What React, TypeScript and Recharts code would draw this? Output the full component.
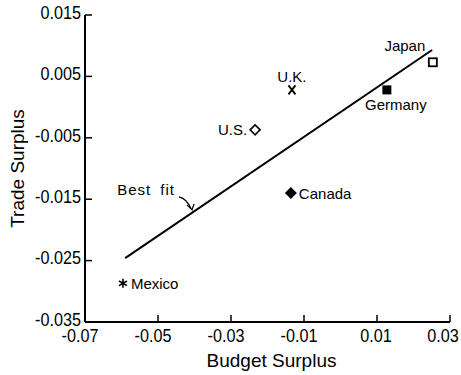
import { ScatterChart, Scatter, XAxis, YAxis, ReferenceLine, ReferenceDot } from 'recharts'

const countries = ['Japan', 'Germany', 'U.K.', 'U.S.', 'Canada', 'Mexico']
const budgetSurplus = [0.0253, 0.0127, -0.0133, -0.0234, -0.0136, -0.0596]
const tradeSurplus = [0.0073, 0.0028, 0.0028, -0.0037, -0.014, -0.0287]
const markers = ['openSquare', 'filledSquare', 'cross', 'openDiamond', 'filledDiamond', 'asterisk']

// best fit line end points and where the note arrow touches it
const fitBudget = [-0.059, 0.0251]
const fitTrade = [-0.0246, 0.0093]
const fitNote = 'Best fit'
const fitNoteBudget = -0.0404
const fitNoteTrade = -0.0169

const xTicks = [-0.07, -0.05, -0.03, -0.01, 0.01, 0.03]
const xTickLabels = ['-0.07', '-0.05', '-0.03', '-0.01', '0.01', '0.03']
const yTicks = [-0.035, -0.025, -0.015, -0.005, 0.005, 0.015]
const yTickLabels = ['-0.035', '-0.025', '-0.015', '-0.005', '0.005', '0.015']

const points = countries.map((name, i) => ({
  name,
  budget: budgetSurplus[i],
  trade: tradeSurplus[i],
  marker: markers[i],
}))

const SANS = "'Liberation Sans', Arial, sans-serif"
const INK = '#000'
const SQUEEZE = 0.9 // tick labels in the original are set in a condensed face

const labelPos: Record<string, { dx: number; dy: number; anchor: 'start' | 'middle' | 'end' }> = {
  Japan: { dx: -28, dy: -17, anchor: 'middle' },
  Germany: { dx: 9, dy: 15, anchor: 'middle' },
  'U.K.': { dx: 0, dy: -13, anchor: 'middle' },
  'U.S.': { dx: -8, dy: 0, anchor: 'end' },
  Canada: { dx: 8, dy: 0, anchor: 'start' },
  Mexico: { dx: 8, dy: 0, anchor: 'start' },
}

function Marker({ kind, cx, cy }: { kind: string; cx: number; cy: number }) {
  if (kind === 'openSquare')
    return <rect x={cx - 4} y={cy - 4} width={8} height={8} fill="#fff" stroke={INK} strokeWidth={1.8} />
  if (kind === 'filledSquare') return <rect x={cx - 4.5} y={cy - 4.5} width={9} height={9} fill={INK} />
  if (kind === 'cross')
    return (
      <path d={`M${cx - 3.5},${cy - 4.5}L${cx + 3.5},${cy + 4.5}M${cx + 3.5},${cy - 4.5}L${cx - 3.5},${cy + 4.5}`} stroke={INK} strokeWidth={1.8} />
    )
  if (kind === 'openDiamond')
    return (
      <polygon points={`${cx},${cy - 5} ${cx + 5},${cy} ${cx},${cy + 5} ${cx - 5},${cy}`} fill="#fff" stroke={INK} strokeWidth={1.6} />
    )
  if (kind === 'filledDiamond')
    return <polygon points={`${cx},${cy - 6} ${cx + 6},${cy} ${cx},${cy + 6} ${cx - 6},${cy}`} fill={INK} />
  // asterisk
  return (
    <path
      d={`M${cx},${cy - 4.5}L${cx},${cy + 4.5}M${cx - 4},${cy - 2.3}L${cx + 4},${cy + 2.3}M${cx - 4},${cy + 2.3}L${cx + 4},${cy - 2.3}`}
      stroke={INK}
      strokeWidth={1.6}
    />
  )
}

function CountryPoint(props: any) {
  const { cx, cy, payload } = props
  const p = labelPos[payload.name]
  return (
    <g>
      <Marker kind={payload.marker} cx={cx} cy={cy} />
      <text
        x={cx + p.dx}
        y={cy + p.dy}
        textAnchor={p.anchor}
        dominantBaseline="central"
        fontFamily={SANS}
        fontSize={15}
        style={{ fill: INK }}
      >
        {payload.name}
      </text>
    </g>
  )
}

function FitNote(props: any) {
  const { cx, cy } = props
  return (
    <g>
      <text
        x={cx - 18}
        y={cy - 21}
        textAnchor="end"
        dominantBaseline="central"
        fontFamily={SANS}
        fontSize={15}
        letterSpacing={1}
        wordSpacing={4}
        style={{ fill: INK }}
      >
        {fitNote}
      </text>
      <path d={`M${cx - 14},${cy - 14} Q${cx - 6},${cy - 12} ${cx - 2},${cy - 2}`} fill="none" stroke={INK} strokeWidth={1.3} />
      <path d={`M${cx - 6},${cy - 6} L${cx - 1},${cy - 1} L${cx + 1},${cy - 7}`} fill="none" stroke={INK} strokeWidth={1.3} />
    </g>
  )
}

function XTick(props: any) {
  const { x, y, index } = props
  const s = xTickLabels[index]
  if (s === undefined) return <g />
  // the original sets labels a little left of their ticks, the last one inside the frame
  const shift = index === xTickLabels.length - 1 ? -7 : s.startsWith('-') ? -5 : -1
  return (
    <text
      transform={`translate(${x + shift},${y + 17}) scale(${SQUEEZE},1)`}
      textAnchor="middle"
      fontFamily={SANS}
      fontSize={18}
      style={{ fill: INK }}
    >
      {s}
    </text>
  )
}

function YTick(props: any) {
  const { x, y, index } = props
  const s = yTickLabels[index]
  if (s === undefined) return <g />
  return (
    <text
      transform={`translate(${x},${y - 2}) scale(${SQUEEZE},1)`}
      textAnchor="end"
      dominantBaseline="central"
      fontFamily={SANS}
      fontSize={18}
      style={{ fill: INK }}
    >
      {s}
    </text>
  )
}

const noMark = () => <g />

export default function App() {
  return (
    <div style={{ position: 'absolute', left: 0, top: 0, background: '#fff' }}>
      <ScatterChart width={461} height={375} margin={{ top: 15, right: 11, bottom: 0, left: 0 }}>
        <XAxis
          type="number"
          dataKey="budget"
          domain={[-0.07, 0.03]}
          ticks={xTicks}
          interval={0}
          height={53}
          tickSize={-7}
          tickMargin={10}
          axisLine={{ stroke: INK, strokeWidth: 2 }}
          tickLine={{ stroke: INK, strokeWidth: 1.5 }}
          tick={XTick}
          label={{
            content: (p: any) => (
              <text
                x={p.viewBox.x + p.viewBox.width / 2 + 4}
                y={367}
                textAnchor="middle"
                fontFamily={SANS}
                fontSize={19}
                style={{ fill: INK }}
              >
                Budget Surplus
              </text>
            ),
          }}
        />
        <YAxis
          type="number"
          dataKey="trade"
          domain={[-0.035, 0.015]}
          ticks={yTicks}
          interval={0}
          width={85}
          tickSize={-7}
          tickMargin={11}
          axisLine={{ stroke: INK, strokeWidth: 2 }}
          tickLine={{ stroke: INK, strokeWidth: 1.5 }}
          tick={YTick}
          label={{
            content: (p: any) => {
              const cy = p.viewBox.y + p.viewBox.height / 2
              return (
                <text
                  x={17}
                  y={cy}
                  transform={`rotate(-90 17 ${cy})`}
                  textAnchor="middle"
                  dominantBaseline="central"
                  fontFamily={SANS}
                  fontSize={19}
                  style={{ fill: INK }}
                >
                  Trade Surplus
                </text>
              )
            },
          }}
        />
        <XAxis
          xAxisId="top"
          orientation="top"
          type="number"
          dataKey="budget"
          domain={[-0.07, 0.03]}
          ticks={xTicks}
          interval={0}
          height={0}
          tickSize={-7}
          tick={false}
          axisLine={{ stroke: INK, strokeWidth: 2 }}
          tickLine={{ stroke: INK, strokeWidth: 1.5 }}
        />
        <YAxis
          yAxisId="right"
          orientation="right"
          type="number"
          dataKey="trade"
          domain={[-0.035, 0.015]}
          ticks={yTicks}
          interval={0}
          width={0}
          tickSize={-7}
          tick={false}
          axisLine={{ stroke: INK, strokeWidth: 2 }}
          tickLine={{ stroke: INK, strokeWidth: 1.5 }}
        />
        <Scatter data={points} xAxisId="top" yAxisId="right" shape={noMark} isAnimationActive={false} />
        <ReferenceLine
          segment={[
            { x: fitBudget[0], y: fitTrade[0] },
            { x: fitBudget[1], y: fitTrade[1] },
          ]}
          stroke={INK}
          strokeWidth={2}
        />
        <ReferenceDot x={fitNoteBudget} y={fitNoteTrade} shape={FitNote} />
        <Scatter data={points} shape={CountryPoint} isAnimationActive={false} />
      </ScatterChart>
    </div>
  )
}
